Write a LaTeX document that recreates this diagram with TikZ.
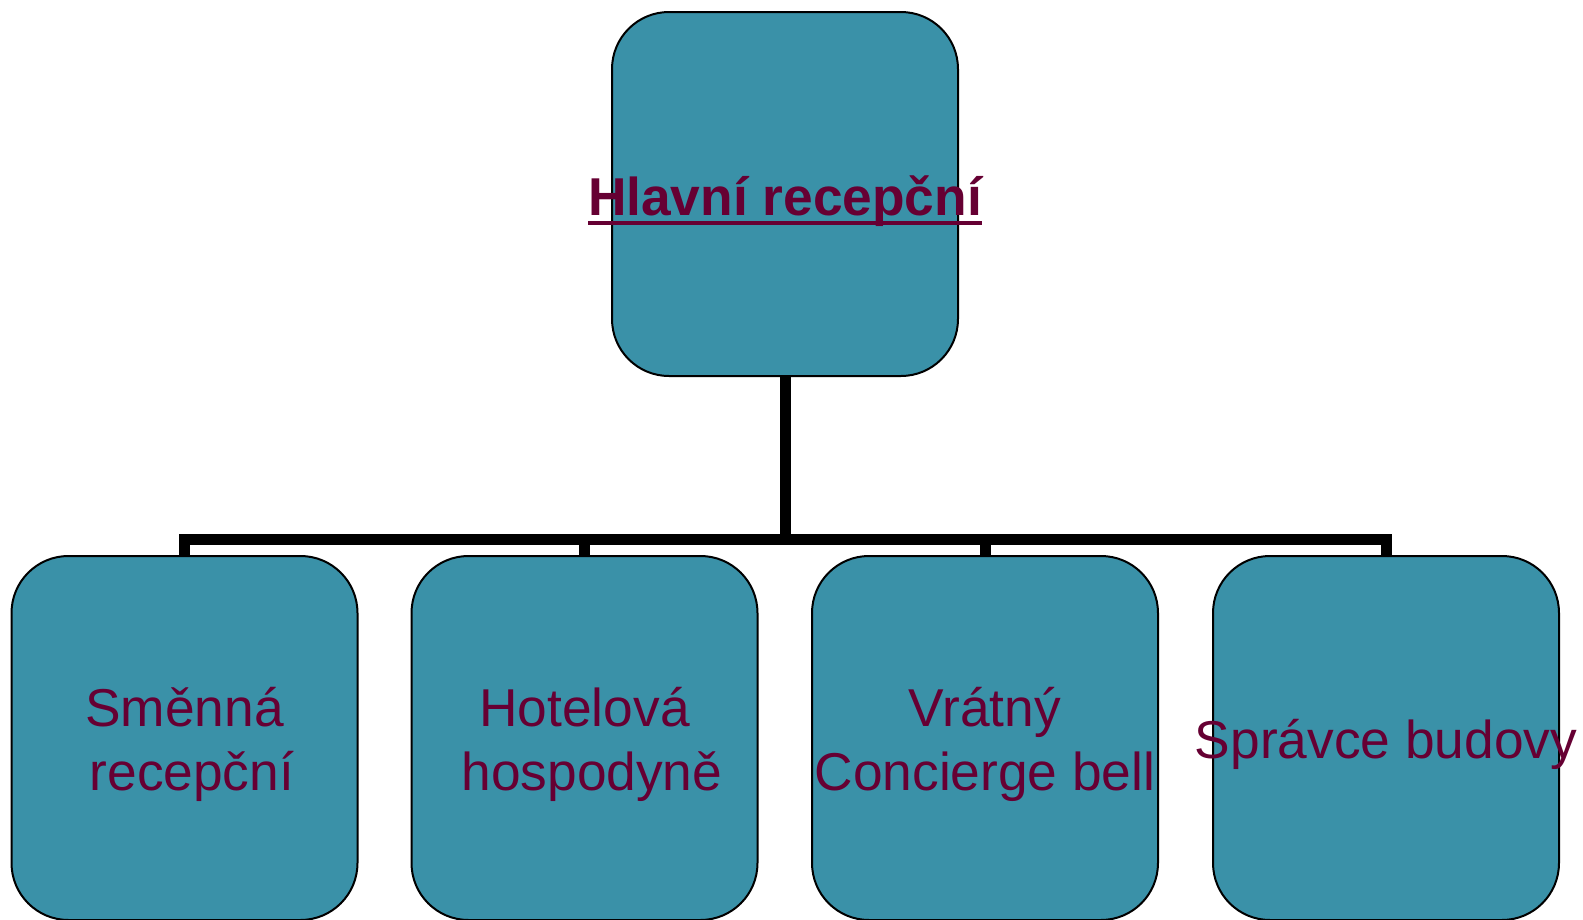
\documentclass[tikz,border=0pt]{standalone}
\usepackage{fontspec}
\setmainfont{Liberation Sans}
\definecolor{boxfill}{HTML}{3A91A8}
\definecolor{txt}{HTML}{660033}
\newcommand\ulbox[1]{\setbox0=\hbox{#1}\rlap{\rule[-10pt]{\wd0}{4.5pt}}\box0}
\begin{document}
\begin{tikzpicture}[x=1pt,y=-1pt,
  orgbox/.style={draw=black, line width=2pt, fill=boxfill, rounded corners=57pt,
    minimum width=346pt, minimum height=364pt, inner sep=0pt, anchor=center},
  conn/.style={draw=black, line width=11pt},
  lbl/.style={text=txt, font=\fontsize{53.3}{64}\selectfont, anchor=base, inner sep=0pt}]
\useasboundingbox (0,0) rectangle (1583,919);
% boxes
\node[orgbox] (top) at (785,194) {};
\node[orgbox] (b1) at (184.5,738) {};
\node[orgbox] (b2) at (584.5,738) {};
\node[orgbox] (b3) at (985,738) {};
\node[orgbox] (b4) at (1386,738) {};
% connectors
\coordinate (bar) at (785,539);
\draw[conn] (top.south) -- (bar);
\draw[conn] (b1.north) -- (b1.north |- bar) -- (b4.north |- bar) -- (b4.north);
\draw[conn] (b2.north) -- (b2.north |- bar);
\draw[conn] (b3.north) -- (b3.north |- bar);
% labels
\node[lbl, font=\fontsize{53.3}{64}\selectfont\bfseries, text=txt] (t0) at (785,215) {\color{txt}\ulbox{Hlavní recepční}};
\node[lbl] (t1a) at (184.5,726) {Směnná};
\node[lbl] (t1b) at (184.5,790) {\hspace*{0.278em}recepční};
\node[lbl] (t2a) at (584.5,726) {Hotelová};
\node[lbl] (t2b) at (584.5,790) {\hspace*{0.278em}hospodyně};
\node[lbl] (t3a) at (985,726) {Vrátný};
\node[lbl] (t3b) at (985,790) {Concierge bell};
\node[lbl] (t4) at (1386,758) {Správce budovy};
\end{tikzpicture}
\end{document}
